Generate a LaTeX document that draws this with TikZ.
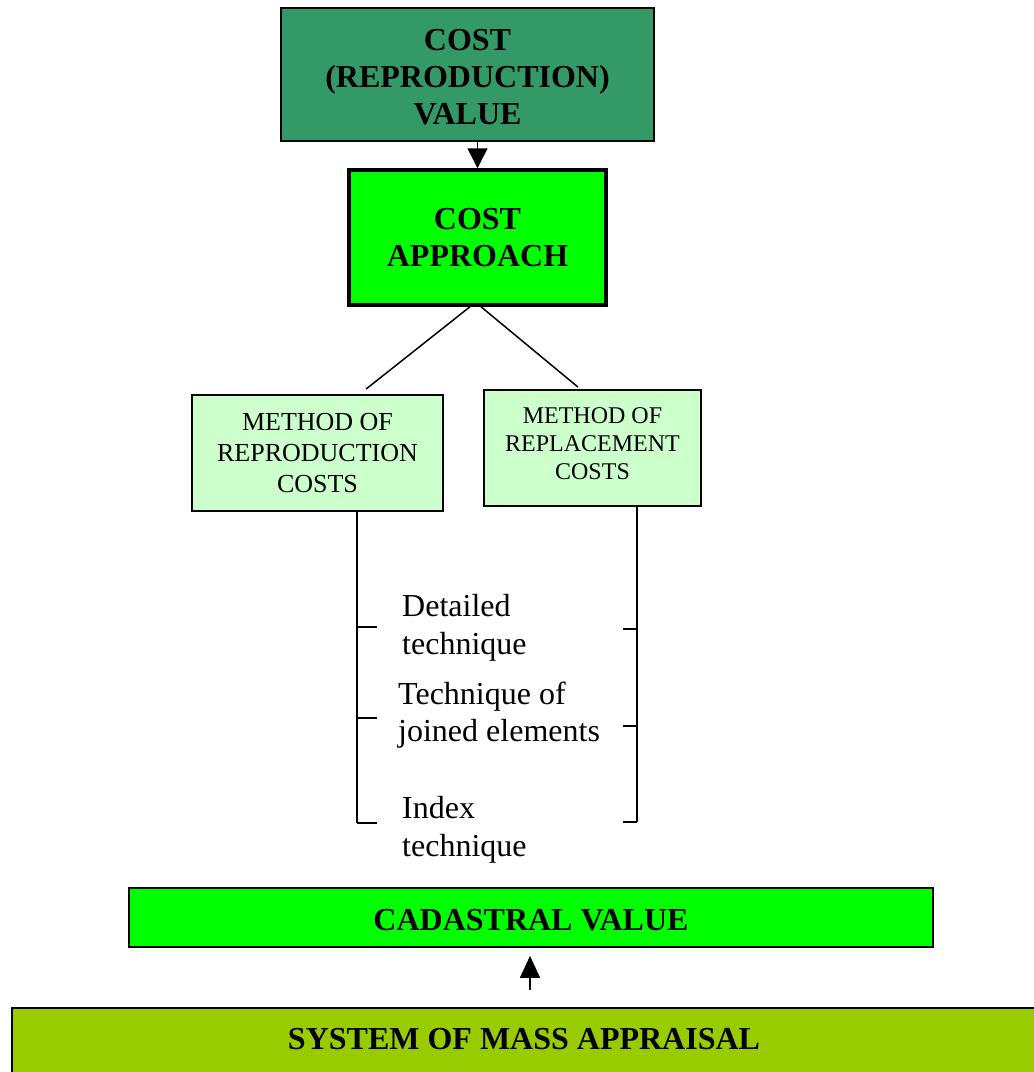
\documentclass[tikz,border=0pt]{standalone}
\usepackage{fontspec}
\setmainfont{Liberation Serif}
\usetikzlibrary{arrows.meta}
\definecolor{seagreen}{HTML}{339966}
\definecolor{brightgreen}{HTML}{00FF00}
\definecolor{palegreen}{HTML}{CCFFCC}
\definecolor{yellowgreen}{HTML}{99CC00}

\begin{document}
\begin{tikzpicture}[x=1pt,y=-1pt,
	box/.style={draw, line width=1.8pt, align=center, inner sep=0pt},
	head/.style={font=\bfseries\fontsize{32}{37}\selectfont},
	label/.style={anchor=west, align=left, inner sep=0pt, font=\fontsize{32}{37.5}\selectfont},
	arr/.style={-{Triangle[length=20pt,width=20pt]}, line width=1.5pt}]
\useasboundingbox (0,0) rectangle (1034,1072);
\clip (0,0) rectangle (1034,1072);
\node [box, head, fill=seagreen, minimum width=373pt, minimum height=133pt] (costval) at (467.5,74.5) {\rule{0pt}{27pt}COST\\(REPRODUCTION)\\VALUE};
\node [box, head, fill=brightgreen, line width=3.5pt, minimum width=257pt, minimum height=135pt] (costappr) at (477.5,237.5) {COST\\APPROACH};
\node [box, fill=palegreen, minimum width=251pt, minimum height=116pt, font=\fontsize{26}{31}\selectfont] (reprod) at (317.5,453) {METHOD OF\\REPRODUCTION\\COSTS};
\node [box, fill=palegreen, minimum width=217pt, minimum height=116pt, font=\fontsize{24}{28}\selectfont] (replace) at (592.5,448) {METHOD OF\\REPLACEMENT\\COSTS\rule[-8pt]{0pt}{8pt}};
\node [box, head, fill=brightgreen, minimum width=804pt, minimum height=59pt] (cadval) at (531,917.5) {\rule{0pt}{27pt}CADASTRAL VALUE};
\node [box, head, fill=yellowgreen, anchor=north, minimum width=1024pt, text height=41.5pt, text depth=70pt] (massapp) at (524,1007) {SYSTEM OF MASS APPRAISAL};
\node [label] (detail) at (402,628) {Detailed\\technique};
\node [label] (joined) at (398,715) {Technique of\\joined elements};
\node [label] (index) at (402,830) {Index\\technique};
\draw [arr] (costval.south -| costappr.north) -- (costappr.north);
\draw [line width=1.5pt] ([xshift=-7.5pt]costappr.south) -- ([xshift=48.5pt,yshift=5pt]reprod.north);
\draw [line width=1.5pt] ([xshift=3.5pt]costappr.south) -- ([xshift=-14.5pt,yshift=2pt]replace.north);
\coordinate (lbot) at (357,823);
\coordinate (rbot) at (637,822);
\draw [line width=1.5pt] (reprod.south -| lbot) -- (lbot);
\draw [line width=1.5pt] (replace.south -| rbot) -- (rbot);
\foreach \y in {627,718,823}
	\draw [line width=1.5pt] (357,\y) -- (377,\y);
\foreach \y in {629,726,822}
	\draw [line width=1.5pt] (623,\y) -- (637,\y);
\draw [arr, -{Triangle[length=22pt,width=20pt]}] ([xshift=6pt,yshift=17pt]massapp.north) -- ([xshift=-1pt,yshift=-8pt]cadval.south);
\end{tikzpicture}
\end{document}
